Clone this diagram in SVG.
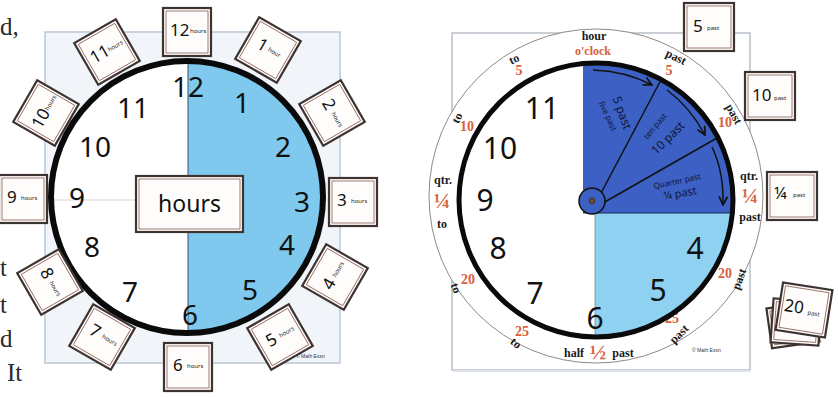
<svg xmlns="http://www.w3.org/2000/svg" width="838" height="398" viewBox="0 0 838 398">
<defs>
<style>
.pg{font-family:"Liberation Serif",serif;font-size:25px;fill:#2a2a2a}
.num{font-family:"Noto Sans",sans-serif;font-size:28px;fill:#111;text-anchor:middle}
.num2{font-family:"Noto Sans",sans-serif;font-size:30px;fill:#111;text-anchor:middle}
.card{fill:#fffdfb;stroke:#3d3431;stroke-width:2.2}
.cardin{fill:none;stroke:#8a5a50;stroke-width:0.8}
.cn{font-family:"Noto Sans",sans-serif;font-size:17px;fill:#111}
.ch{font-family:"Noto Sans",sans-serif;font-size:6px;fill:#222}
.rb{font-family:"Liberation Serif",serif;font-weight:bold;font-size:12px;fill:#1a1a1a;text-anchor:middle}
.rr{font-family:"Liberation Serif",serif;font-weight:bold;font-size:14px;fill:#d9603c;text-anchor:middle}
.fr{font-family:"Liberation Serif",serif;font-weight:bold;font-size:22px;fill:#d9603c;text-anchor:middle}
.bt{font-family:"Noto Sans",sans-serif;fill:#0e1636;text-anchor:middle}
.cp{font-family:"Liberation Sans",sans-serif;font-size:5px;fill:#333}
.arr{fill:none;stroke:#111;stroke-width:1.5}
</style>
<marker id="ah" viewBox="0 0 10 10" refX="9" refY="5" markerWidth="7" markerHeight="7" orient="auto">
<path d="M1,1 L9,5 L1,9" fill="none" stroke="#111" stroke-width="1.6"/>
</marker>
</defs>
<rect width="838" height="398" fill="#ffffff"/>

<!-- page text fragments -->
<g id="pagetext">
<text class="pg" x="0" y="35">d,</text>
<text class="pg" x="0" y="276" font-size="14">t</text>
<text class="pg" x="0" y="313" font-size="14">t</text>
<text class="pg" x="0" y="347">d</text>
<text class="pg" x="7" y="381">It</text>
</g>

<!-- LEFT CLOCK -->
<g id="left-paper">
<rect x="45" y="32" width="295" height="331" fill="#f1f5fa" stroke="#b9c7d6" stroke-width="1.5"/>
<line x1="45" y1="200" x2="340" y2="200" stroke="#c9d3dd" stroke-width="0.8"/>
<text class="cp" x="296" y="358">© Math Essn</text>
</g>
<g id="left-face">
<circle cx="187" cy="197" r="136" fill="#ffffff"/>
<path d="M188,61 A136,136 0 0 1 188,333 Z" fill="#7fc9ef"/>
<line x1="52" y1="200" x2="136" y2="200" stroke="#c9c9c9" stroke-width="0.8"/>
<line x1="188" y1="61" x2="188" y2="333" stroke="#3a4a6a" stroke-width="1"/>
<circle cx="187" cy="197" r="136" fill="none" stroke="#0a0a0a" stroke-width="6"/>
<text class="num" x="188" y="97" font-size="24">12</text>
<text class="num" x="242" y="113">1</text>
<text class="num" x="283" y="157">2</text>
<text class="num" x="302" y="212">3</text>
<text class="num" x="287" y="255">4</text>
<text class="num" x="250" y="300">5</text>
<text class="num" x="190" y="325">6</text>
<text class="num" x="130" y="302">7</text>
<text class="num" x="92" y="257">8</text>
<text class="num" x="77" y="208">9</text>
<text class="num" x="95" y="157">10</text>
<text class="num" x="133" y="118">11</text>
</g>
<g id="hours-label">
<rect x="136" y="176" width="107" height="56" class="card"/>
<rect x="139" y="179" width="101" height="50" class="cardin"/>
<text x="189.5" y="212" font-family="Noto Sans, sans-serif" font-size="23" fill="#111" text-anchor="middle">hours</text>
</g>

<g id="card-12" transform="translate(187,32)"><rect class="card" x="-24" y="-24" width="48" height="48"/><rect class="cardin" x="-21" y="-21" width="42" height="42"/><text class="cn" x="-17" y="4">12</text><text class="ch" x="3" y="1">hours</text></g>
<g id="card-1" transform="translate(268,50) rotate(30)"><rect class="card" x="-24" y="-24" width="48" height="48"/><rect class="cardin" x="-21" y="-21" width="42" height="42"/><text class="cn" x="-12" y="4">1</text><text class="ch" x="0" y="1">hour</text></g>
<g id="card-2" transform="translate(332,113) rotate(60)"><rect class="card" x="-24" y="-24" width="48" height="48"/><rect class="cardin" x="-21" y="-21" width="42" height="42"/><text class="cn" x="-14" y="4">2</text><text class="ch" x="0" y="1">hours</text></g>
<g id="card-3" transform="translate(353,202)"><rect class="card" x="-24" y="-24" width="48" height="48"/><rect class="cardin" x="-21" y="-21" width="42" height="42"/><text class="cn" x="-16" y="4">3</text><text class="ch" x="-2" y="1">hours</text></g>
<g id="card-4" transform="translate(335,277) rotate(-60)"><rect class="card" x="-24" y="-24" width="48" height="48"/><rect class="cardin" x="-21" y="-21" width="42" height="42"/><text class="cn" x="-14" y="4">4</text><text class="ch" x="0" y="1">hours</text></g>
<g id="card-5" transform="translate(280,337) rotate(-30)"><rect class="card" x="-24" y="-24" width="48" height="48"/><rect class="cardin" x="-21" y="-21" width="42" height="42"/><text class="cn" x="-14" y="4">5</text><text class="ch" x="0" y="1">hours</text></g>
<g id="card-6" transform="translate(188,367)"><rect class="card" x="-24" y="-24" width="48" height="48"/><rect class="cardin" x="-21" y="-21" width="42" height="42"/><text class="cn" x="-15" y="4">6</text><text class="ch" x="-1" y="1">hours</text></g>
<g id="card-7" transform="translate(102,337) rotate(30)"><rect class="card" x="-24" y="-24" width="48" height="48"/><rect class="cardin" x="-21" y="-21" width="42" height="42"/><text class="cn" x="-14" y="4">7</text><text class="ch" x="0" y="1">hours</text></g>
<g id="card-8" transform="translate(50,282) rotate(60)"><rect class="card" x="-24" y="-24" width="48" height="48"/><rect class="cardin" x="-21" y="-21" width="42" height="42"/><text class="cn" x="-14" y="4">8</text><text class="ch" x="0" y="1">hours</text></g>
<g id="card-9" transform="translate(23,199)"><rect class="card" x="-24" y="-24" width="48" height="48"/><rect class="cardin" x="-21" y="-21" width="42" height="42"/><text class="cn" x="-16" y="4">9</text><text class="ch" x="-2" y="1">hours</text></g>
<g id="card-10" transform="translate(46,113) rotate(-60)"><rect class="card" x="-24" y="-24" width="48" height="48"/><rect class="cardin" x="-21" y="-21" width="42" height="42"/><text class="cn" x="-17" y="4">10</text><text class="ch" x="3" y="1">hours</text></g>
<g id="card-11" transform="translate(107,52) rotate(-30)"><rect class="card" x="-24" y="-24" width="48" height="48"/><rect class="cardin" x="-21" y="-21" width="42" height="42"/><text class="cn" x="-17" y="4">11</text><text class="ch" x="2" y="1">hours</text></g>

<!-- RIGHT CLOCK -->
<g id="right-paper">
<rect x="452" y="33" width="298" height="337" fill="#ffffff" stroke="#b8c0c8" stroke-width="1.5"/>
<line x1="453" y1="371" x2="750" y2="371" stroke="#dde3e8" stroke-width="2"/>
<text class="cp" x="692" y="352">© Math Essn</text>
</g>
<g id="right-ring">
<circle cx="596" cy="196" r="167" fill="#ffffff" stroke="#8f8a88" stroke-width="1"/>
<text class="rb" x="594" y="40">hour</text>
<text class="rb" x="593" y="55" style="fill:#d9603c">o'clock</text>
<g transform="translate(514,59) rotate(-25)"><text class="rb" y="4">to</text></g>
<text class="rr" x="519" y="75">5</text>
<g transform="translate(676,57) rotate(25)"><text class="rb" y="4">past</text></g>
<text class="rr" x="669" y="75">5</text>
<g transform="translate(734,114) rotate(60)"><text class="rb" y="4">past</text></g>
<text class="rr" x="725" y="127">10</text>
<g transform="translate(457,118) rotate(-65)"><text class="rb" y="4">to</text></g>
<text class="rr" x="467" y="131">10</text>
<text class="rb" x="749" y="180">qtr.</text>
<text class="fr" x="750" y="203">¼</text>
<text class="rb" x="750" y="221">past</text>
<text class="rb" x="443" y="184">qtr.</text>
<text class="fr" x="442" y="208">¼</text>
<text class="rb" x="442" y="228">to</text>
<text class="rr" x="725" y="278">20</text>
<g transform="translate(739,279) rotate(-70)"><text class="rb" y="4">past</text></g>
<text class="rr" x="468" y="284">20</text>
<g transform="translate(456,288) rotate(70)"><text class="rb" y="4">to</text></g>
<text class="rr" x="672" y="323">25</text>
<g transform="translate(679,334) rotate(-45)"><text class="rb" y="4">past</text></g>
<text class="rr" x="522" y="336">25</text>
<g transform="translate(516,343) rotate(40)"><text class="rb" y="4">to</text></g>
<text class="rb" x="574" y="357">half</text>
<text class="fr" x="598" y="359">½</text>
<text class="rb" x="623" y="357">past</text>
</g>
<g id="right-face">
<circle cx="596" cy="200" r="137" fill="#ffffff"/>
<path d="M595,213 L732.4,213 A137,137 0 0 1 595,337 Z" fill="#8fd1f1"/>
<line x1="595" y1="213" x2="595" y2="337" stroke="#7a8a9a" stroke-width="0.8"/>
<path d="M583,213 L583,63.6 A137,137 0 0 1 732.4,213 Z" fill="#3c60c3"/>
<line x1="600" y1="195" x2="662" y2="78" stroke="#111" stroke-width="1.5"/>
<line x1="603" y1="203" x2="717" y2="138" stroke="#111" stroke-width="1.5"/>
<line x1="583" y1="213" x2="732" y2="213" stroke="#1a2a5a" stroke-width="1"/>
<circle cx="596" cy="200" r="137" fill="none" stroke="#0a0a0a" stroke-width="5"/>
<circle cx="592" cy="201" r="13" fill="#3c60c3" stroke="#111" stroke-width="1.5"/>
<circle cx="592" cy="201" r="3" fill="#6a4a30" stroke="#222" stroke-width="0.6"/>
<text class="num2" x="542" y="119">11</text>
<text class="num2" x="500" y="159">10</text>
<text class="num2" x="485" y="211">9</text>
<text class="num2" x="498" y="259">8</text>
<text class="num2" x="535" y="304">7</text>
<text class="num2" x="595" y="329">6</text>
<text class="num2" x="658" y="301">5</text>
<text class="num2" x="695" y="259">4</text>
</g>
<g id="blue-labels">
<g transform="translate(608,116) rotate(65)"><text class="bt" y="3" font-size="8">five past</text></g>
<g transform="translate(622,113) rotate(70)"><text class="bt" y="4" font-size="12">5 past</text></g>
<g transform="translate(655,126) rotate(-50)"><text class="bt" y="3" font-size="8">ten past</text></g>
<g transform="translate(668,138) rotate(-45)"><text class="bt" y="4" font-size="12">10 past</text></g>
<g transform="translate(677,181) rotate(-12)"><text class="bt" y="3" font-size="8">Quarter past</text></g>
<g transform="translate(680,193) rotate(-10)"><text class="bt" y="4" font-size="11">¼ past</text></g>
</g>
<g id="connectors">
<path class="arr" d="M593,70 Q625,71 652,85" marker-end="url(#ah)"/>
<path class="arr" d="M667,90 Q690,107 705,135" marker-end="url(#ah)"/>
<path class="arr" d="M712,147 Q724,172 723,205" marker-end="url(#ah)"/>
</g>

<g id="card-5past" transform="translate(709,27)"><rect class="card" x="-25" y="-24" width="50" height="48"/><rect class="cardin" x="-22" y="-21" width="44" height="42"/><text class="cn" x="-16" y="5" font-size="19">5</text><text class="ch" x="-2" y="3">past</text></g>
<g id="card-10past" transform="translate(770,96)"><rect class="card" x="-25" y="-24" width="50" height="48"/><rect class="cardin" x="-22" y="-21" width="44" height="42"/><text class="cn" x="-18" y="5" font-size="19">10</text><text class="ch" x="4" y="4">past</text></g>
<g id="card-qpast" transform="translate(792,196)"><rect class="card" x="-25" y="-24" width="50" height="48"/><rect class="cardin" x="-22" y="-21" width="44" height="42"/><text class="cn" x="-18" y="3" font-size="17">¼</text><text class="ch" x="1" y="1">past</text></g>
<g id="card-20past-stack">
<g transform="translate(793,325) rotate(-8)"><rect class="card" x="-24" y="-20" width="48" height="40"/><rect class="cardin" x="-21" y="-17" width="42" height="34"/></g>
<g transform="translate(796,322) rotate(4)"><rect class="card" x="-24" y="-22" width="48" height="44"/><rect class="cardin" x="-21" y="-19" width="42" height="38"/></g>
<g transform="translate(804,310) rotate(9)"><rect class="card" x="-25" y="-24" width="50" height="48"/><rect class="cardin" x="-22" y="-21" width="44" height="42"/><text class="cn" x="-20" y="4" font-size="17">20</text><text class="ch" x="4" y="4">past</text></g>
</g>
</svg>
